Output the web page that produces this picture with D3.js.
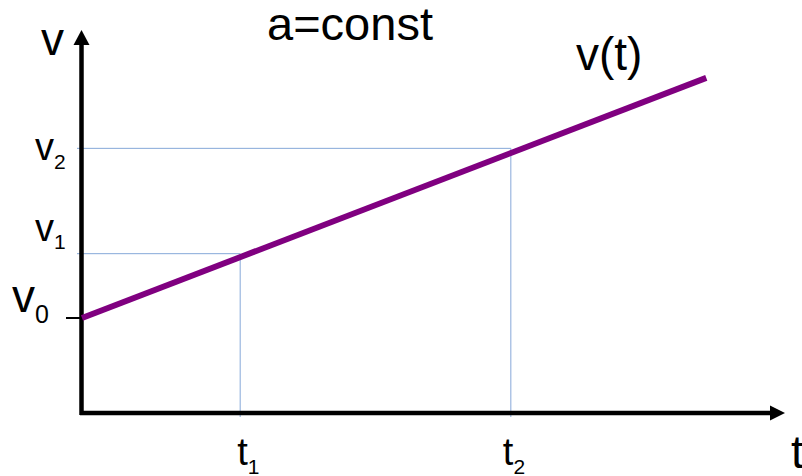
<!DOCTYPE html>
<html>
<head>
<meta charset="utf-8">
<script src="https://cdn.jsdelivr.net/npm/d3@7"></script>
<style>
  body { margin: 0; background: #fff; }
  text { font-family: "Liberation Sans", Arial, sans-serif; fill: #000; }
</style>
</head>
<body>
<svg id="chart"></svg>
<script>
// values (arbitrary units, axes go 0..10)
const tMarks = [2.25, 6.10];
const tSubs = ["1", "2"];
const vMarks = [4.16, 6.91];
const vSubs = ["1", "2"];
const v0 = 2.48;
const lineT = [0, 8.88];
const lineV = [2.48, 8.75];

const width = 802, height = 476;
const svg = d3.select("#chart").attr("width", width).attr("height", height);

const x = d3.scaleLinear().domain([0, 10]).range([82, 785]);
const y = d3.scaleLinear().domain([0, 10]).range([413, 30]);

// guide lines (thin blue)
const guides = svg.append("g").attr("stroke", "#86a8d9").attr("stroke-width", 1).attr("fill", "none");
tMarks.forEach(function(t, i){
  const v = vMarks[i];
  guides.append("path")
    .attr("d", "M" + (x(0) - 5) + "," + y(v) + "H" + x(t) + "V" + (y(0) + 4));
});

// v0 tick
svg.append("line")
  .attr("x1", x(0) - 16).attr("x2", x(0))
  .attr("y1", y(v0)).attr("y2", y(v0))
  .attr("stroke", "#000").attr("stroke-width", 2);

// axes
const ax = svg.append("g");
ax.append("line")
  .attr("x1", x(0) - 2).attr("x2", x(10) - 12)
  .attr("y1", y(0)).attr("y2", y(0))
  .attr("stroke", "#000").attr("stroke-width", 4.5);
ax.append("line")
  .attr("x1", x(0) - 0.5).attr("x2", x(0) - 0.5)
  .attr("y1", y(0) + 2).attr("y2", y(10) + 12)
  .attr("stroke", "#000").attr("stroke-width", 4.5);
// arrow heads
ax.append("path")
  .attr("d", "M" + x(10) + "," + y(0) + "L" + (x(10) - 15) + "," + (y(0) - 7.5) + "L" + (x(10) - 15) + "," + (y(0) + 7.5) + "Z")
  .attr("fill", "#000");
ax.append("path")
  .attr("d", "M" + (x(0) - 0.5) + "," + y(10) + "L" + (x(0) - 8.5) + "," + (y(10) + 15) + "L" + (x(0) + 7.5) + "," + (y(10) + 15) + "Z")
  .attr("fill", "#000");

// v(t) line
const line = d3.line().x(function(d){ return x(d[0]); }).y(function(d){ return y(d[1]); });
svg.append("path")
  .datum(d3.zip(lineT, lineV))
  .attr("d", line)
  .attr("fill", "none")
  .attr("stroke", "#800080")
  .attr("stroke-width", 6);

// labels
function subLabel(px, py, main, sub, size, subSize, dy){
  const t = svg.append("text").attr("x", px).attr("y", py).style("font-size", size + "px");
  t.append("tspan").text(main);
  t.append("tspan").attr("dy", dy).style("font-size", subSize + "px").text(sub);
}

subLabel(12, y(v0) - 6, "v", "0", 46, 25, 11);
subLabel(35, y(vMarks[0]) - 13, "v", vSubs[0], 38, 21, 8);
subLabel(35, y(vMarks[1]) + 12, "v", vSubs[1], 38, 21, 9);
subLabel(x(tMarks[0]) - 3, 465, "t", tSubs[0], 38, 21, 9);
subLabel(x(tMarks[1]) - 8, 465, "t", tSubs[1], 38, 21, 9);

svg.append("text").attr("x", 41).attr("y", 55).style("font-size", "46px").text("v");
svg.append("text").attr("x", 791).attr("y", 468).style("font-size", "46px").text("t");
svg.append("text").attr("x", 576).attr("y", 70).style("font-size", "46px").text("v(t)");
svg.append("text").attr("x", 350).attr("y", 40).attr("text-anchor", "middle").style("font-size", "47px").text("a=const");
</script>
</body>
</html>
